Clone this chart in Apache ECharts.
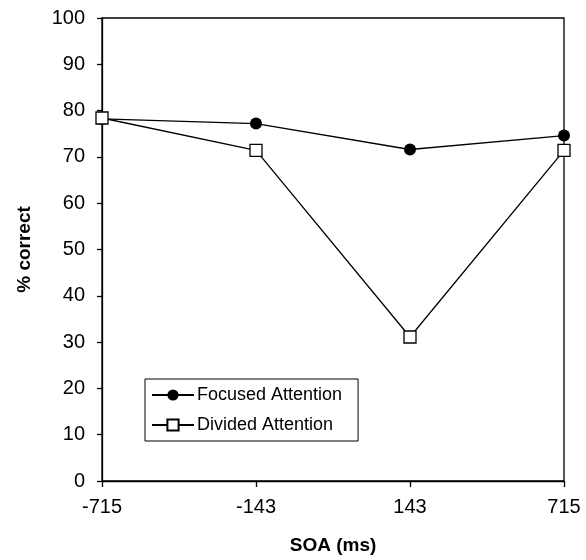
<!DOCTYPE html>
<html>
<head>
<meta charset="utf-8">
<script src="https://cdn.jsdelivr.net/npm/echarts@6/dist/echarts.min.js"></script>
<style>
  html, body { margin: 0; padding: 0; background: #fff; }
  #chart { width: 586px; height: 560px; }
</style>
</head>
<body>
<div id="chart"></div>
<script>
const categories = ['-715', '-143', '143', '715'];
const focusedAttention = [78.2, 77.2, 71.6, 74.6];
const dividedAttention = [78.4, 71.4, 31.1, 71.4];
const yTicks = { min: 0, max: 100, interval: 10 };

const FONT = 'Liberation Sans, Arial, sans-serif';
const chart = echarts.init(document.getElementById('chart'), null, { renderer: 'canvas' });

chart.setOption({
  animation: false,
  backgroundColor: '#ffffff',
  grid: {
    left: 102, right: 22, top: 18, bottom: 77,
    show: true, borderColor: '#000', borderWidth: 1.3, backgroundColor: 'transparent'
  },
  legend: {
    orient: 'vertical',
    left: 145, top: 379,
    backgroundColor: '#fff',
    borderColor: '#000', borderWidth: 1,
    borderRadius: 0,
    padding: [7, 16, 7, 6],
    itemWidth: 42, itemHeight: 14, itemGap: 12,
    textStyle: { fontFamily: FONT, fontSize: 18, color: '#000', lineHeight: 18, padding: [0, 0, 0, -2] },
    data: ['Focused Attention', 'Divided Attention']
  },
  xAxis: {
    type: 'category',
    data: categories,
    boundaryGap: false,
    name: 'SOA (ms)',
    nameLocation: 'middle',
    nameGap: 55,
    nameTextStyle: { fontFamily: FONT, fontSize: 19, fontWeight: 'bold', color: '#000' },
    axisLine: { lineStyle: { color: '#000', width: 1.3 } },
    axisTick: { show: true, alignWithLabel: true, length: 6, lineStyle: { color: '#000', width: 1.3 } },
    axisLabel: { fontFamily: FONT, fontSize: 20, color: '#000', margin: 16 },
    splitLine: { show: false }
  },
  yAxis: {
    type: 'value',
    min: yTicks.min, max: yTicks.max, interval: yTicks.interval,
    name: '% correct',
    nameLocation: 'middle',
    nameGap: 68,
    nameTextStyle: { fontFamily: FONT, fontSize: 19, fontWeight: 'bold', color: '#000' },
    axisLine: { show: true, lineStyle: { color: '#000', width: 1.3 } },
    axisTick: { show: true, length: 5, lineStyle: { color: '#000', width: 1.3 } },
    axisLabel: { fontFamily: FONT, fontSize: 20, color: '#000', margin: 17 },
    splitLine: { show: false }
  },
  series: [
    {
      name: 'Focused Attention',
      type: 'line',
      data: focusedAttention,
      symbol: 'circle',
      symbolSize: 12,
      lineStyle: { color: '#000', width: 1.3 },
      itemStyle: { color: '#000', borderColor: '#000', borderWidth: 0 }
    },
    {
      name: 'Divided Attention',
      type: 'line',
      data: dividedAttention,
      symbol: 'rect',
      symbolSize: 12,
      lineStyle: { color: '#000', width: 1.3 },
      itemStyle: { color: '#fff', borderColor: '#000', borderWidth: 1.3 }
    }
  ]
});
</script>
</body>
</html>
